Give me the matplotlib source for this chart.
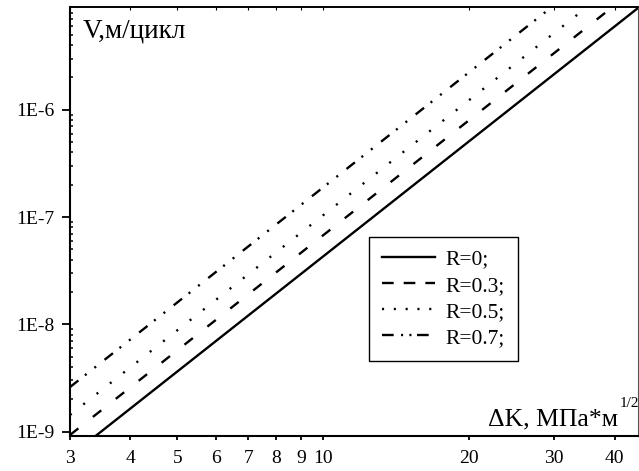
import numpy as np
import matplotlib
matplotlib.use("Agg")
import matplotlib.pyplot as plt
from matplotlib.lines import Line2D
from matplotlib.ticker import FixedLocator, LogLocator, NullFormatter

plt.rcParams['font.family'] = ['Liberation Serif', 'DejaVu Serif']
plt.rcParams['lines.scale_dashes'] = False

# data (straight lines in log-log space)
dK = [3.0, 45.0]
v_r0 = [5.9e-10, 9.1e-6]
v_r03 = [9.3e-10, 1.43e-5]
v_r05 = [1.43e-9, 2.2e-5]
v_r07 = [2.6e-9, 4.0e-5]
labels = ['R=0;', 'R=0.3;', 'R=0.5;', 'R=0.7;']
x_ticks = [3, 4, 5, 6, 7, 8, 9, 10, 20, 30, 40]
y_ticks = [1e-9, 1e-8, 1e-7, 1e-6]
y_tick_labels = ['1E-9', '1E-8', '1E-7', '1E-6']

# dash patterns in points: plot style and legend style differ a bit
plot_styles = [None, (0, (7.7, 13.3)), (0, (1.5, 10.7)),
               (0, (7.7, 6.0, 1.5, 7.2, 1.5, 7.8))]
legend_styles = [None, (0, (8.4, 7.2)), (0, (1.5, 7.0)),
                 (0, (8.4, 5.3, 1.5, 4.5, 1.5, 4.0))]
lw = 1.7

fig = plt.figure(figsize=(6.39, 4.71), dpi=100)
ax = fig.add_axes([0.1095, 0.0743, 0.8897, 0.910])

for v, ls in zip([v_r0, v_r03, v_r05, v_r07], plot_styles):
    if ls is None:
        ax.plot(dK, v, color='k', lw=lw, solid_capstyle='butt')
    else:
        ax.plot(dK, v, color='k', lw=lw, linestyle=ls, dash_capstyle='butt')

ax.set_xscale('log')
ax.set_yscale('log')
ax.set_xlim(3, 44.8)
ax.set_ylim(9.1e-10, 9.0e-6)

ax.xaxis.set_major_locator(FixedLocator(x_ticks))
ax.set_xticklabels([str(t) for t in x_ticks])
ax.xaxis.set_minor_locator(FixedLocator([]))
ax.xaxis.set_minor_formatter(NullFormatter())
ax.yaxis.set_major_locator(FixedLocator(y_ticks))
ax.set_yticklabels(y_tick_labels)
ax.yaxis.set_minor_locator(LogLocator(base=10, subs=np.arange(2, 10)))
ax.yaxis.set_minor_formatter(NullFormatter())

ax.tick_params(axis='x', which='major', direction='out', length=3, width=1.3,
               labelsize=14, pad=7)
ax.tick_params(axis='y', which='major', direction='out', length=6, width=1.3,
               labelsize=14, pad=5)
ax.tick_params(axis='y', which='minor', direction='in', length=2.5, width=1.1)

# top axis: inward ticks, no labels
top = ax.secondary_xaxis('top')
top.set_xticks(x_ticks)
top.tick_params(direction='in', length=2.5, width=0.8, labeltop=False)
top.xaxis.set_minor_locator(FixedLocator([]))
top.spines['top'].set_linewidth(1.2)

for side in ['left', 'bottom']:
    ax.spines[side].set_linewidth(1.5)
ax.spines['top'].set_linewidth(1.2)
ax.spines['right'].set_linewidth(0.8)
ax.spines['right'].set_color('#555555')

ax.text(0.023, 0.975, 'V,м/цикл', transform=ax.transAxes, fontsize=19.5,
        va='top', ha='left')
ax.text(0.964, 0.0257, 'ΔK, МПа*м', transform=ax.transAxes, fontsize=18.5,
        va='baseline', ha='right')
ax.text(0.9675, 0.068, '1/2', transform=ax.transAxes, fontsize=11,
        va='baseline', ha='left')

handles = []
for ls, lab in zip(legend_styles, labels):
    if ls is None:
        handles.append(Line2D([], [], color='k', lw=lw, label=lab))
    else:
        handles.append(Line2D([], [], color='k', lw=lw, linestyle=ls,
                              dash_capstyle='butt', label=lab))
leg = ax.legend(handles=handles, loc='upper left',
                bbox_to_anchor=(0.526, 0.465), borderaxespad=0,
                fontsize=15.5, handlelength=2.45, handletextpad=0.5,
                borderpad=0.6, labelspacing=0.28, fancybox=False,
                framealpha=1)
leg.get_frame().set_edgecolor('k')
leg.get_frame().set_linewidth(1.0)

fig.savefig('out.png', dpi=100)
